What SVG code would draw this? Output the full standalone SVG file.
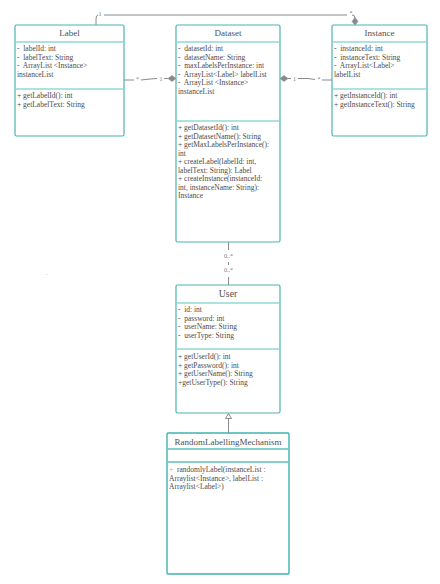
<svg xmlns="http://www.w3.org/2000/svg" width="440" height="584" viewBox="0 0 440 584" xml:space="preserve">
  <style>
    .box { fill: #ffffff; stroke: #4bb4b2; stroke-width: 1.2; }
    .sep { stroke: #93d8d6; stroke-width: 1.4; }
    .title { font-family: "Liberation Serif", "Times New Roman", serif; font-size: 9px; fill: #505050; text-anchor: middle; }
    .txt { font-family: "Liberation Serif", "Times New Roman", serif; font-size: 7.5px; fill: #4a4a4a; white-space: pre; }
    .mult { font-family: "Liberation Serif", "Times New Roman", serif; font-size: 6px; fill: #777777; text-anchor: middle; }
    .conn { fill: none; stroke: #8a8a8a; stroke-width: 1; }
    .diamond { fill: #8a8a8a; stroke: #8a8a8a; stroke-width: 0.6; }
    .tri { fill: #ffffff; stroke: #8a8a8a; stroke-width: 1; }
  </style>

  <rect width="440" height="584" fill="#ffffff"/>

  <!-- connectors -->
  <g id="connectors">
    <!-- Label 1 — * Instance (top) -->
    <path class="conn" d="M96,25 L96,19 Q96,15 98,15"/>
    <text class="mult" x="100" y="15.5">1</text>
    <path class="conn" d="M104,15 L347,15"/>
    <text class="mult" x="351" y="15">*</text>
    <path class="conn" d="M352,15 Q355,15 355,18"/>
    <polygon class="diamond" points="355,17.5 358,21.5 355,25 352,21.5"/>

    <!-- Label * — 1 Dataset -->
    <path class="conn" d="M124,80 L134,80"/>
    <text class="mult" x="137.5" y="81">*</text>
    <path class="conn" d="M141,80 L150,79 L157,78.5"/>
    <text class="mult" x="161" y="80.5">1</text>
    <path class="conn" d="M164,78.5 L168,78.5"/>
    <polygon class="diamond" points="168,78.5 172,75.5 176,78.5 172,81.5"/>

    <!-- Dataset 1 — * Instance -->
    <polygon class="diamond" points="280,78.5 284,75.5 288,78.5 284,81.5"/>
    <path class="conn" d="M288,78.5 L291,78.5"/>
    <text class="mult" x="294.5" y="80.5">1</text>
    <path class="conn" d="M298,78.5 L308,78.5 L315,79.5"/>
    <text class="mult" x="319" y="81">*</text>
    <path class="conn" d="M322,80 L332,80"/>

    <!-- Dataset 0..* — 0..* User -->
    <path class="conn" d="M228.5,242 L228.5,250"/>
    <text class="mult" x="228.5" y="258">0..*</text>
    <path class="conn" d="M228.5,262 L228.5,265"/>
    <text class="mult" x="228.5" y="272">0..*</text>
    <path class="conn" d="M228.5,277 L228.5,285"/>

    <!-- RandomLabellingMechanism extends User -->
    <path class="conn" d="M228.5,419 L228.5,433"/>
    <polygon class="tri" points="228.5,413.5 231.5,418.5 225.5,418.5"/>
  </g>

  <!-- Label class -->
  <g id="label">
    <rect class="box" x="15" y="25" width="109" height="111" rx="1.5"/>
    <line class="sep" x1="15.6" y1="42" x2="123.4" y2="42"/>
    <line class="sep" x1="15.6" y1="89" x2="123.4" y2="89"/>
    <text class="title" x="69.5" y="36">Label</text>
    <text class="txt" x="17" y="51">-  labelId: int</text>
    <text class="txt" x="17" y="59.5">-  labelText: String</text>
    <text class="txt" x="17" y="68">-  ArrayList &lt;Instance&gt;</text>
    <text class="txt" x="17" y="76.5">instanceList</text>
    <text class="txt" x="17" y="98">+ getLabelId(): int</text>
    <text class="txt" x="17" y="106.5">+ getLabelText: String</text>
  </g>

  <!-- Dataset class -->
  <g id="dataset">
    <rect class="box" x="176" y="25" width="104" height="217" rx="1.5"/>
    <line class="sep" x1="176.6" y1="42" x2="279.4" y2="42"/>
    <line class="sep" x1="176.6" y1="121" x2="279.4" y2="121"/>
    <text class="title" x="228" y="36">Dataset</text>
    <text class="txt" x="178" y="51">-  datasetId: int</text>
    <text class="txt" x="178" y="59.5">-  datasetName: String</text>
    <text class="txt" x="178" y="68">-  maxLabelsPerInstance: int</text>
    <text class="txt" x="178" y="76.5">-  ArrayList&lt;Label&gt; labelList</text>
    <text class="txt" x="178" y="85">-  ArrayList &lt;Instance&gt;</text>
    <text class="txt" x="178" y="93.5">instanceList</text>
    <text class="txt" x="178" y="130">+ getDatasetId(): int</text>
    <text class="txt" x="178" y="138.5">+ getDatasetName(): String</text>
    <text class="txt" x="178" y="147">+ getMaxLabelsPerInstance():</text>
    <text class="txt" x="178" y="155.5">int</text>
    <text class="txt" x="178" y="164">+ createLabel(labelId: int,</text>
    <text class="txt" x="178" y="172.5">labelText: String): Label</text>
    <text class="txt" x="178" y="181">+ createInstance(instanceId:</text>
    <text class="txt" x="178" y="189.5">int, instanceName: String):</text>
    <text class="txt" x="178" y="198">Instance</text>
  </g>

  <!-- Instance class -->
  <g id="instance">
    <rect class="box" x="332" y="25" width="95" height="111" rx="1.5"/>
    <line class="sep" x1="332.6" y1="42" x2="426.4" y2="42"/>
    <line class="sep" x1="332.6" y1="89" x2="426.4" y2="89"/>
    <text class="title" x="379.5" y="36">Instance</text>
    <text class="txt" x="334" y="51">-  instanceId: int</text>
    <text class="txt" x="334" y="59.5">-  instanceText: String</text>
    <text class="txt" x="334" y="68">-  ArrayList&lt;Label&gt;</text>
    <text class="txt" x="334" y="76.5">labelList</text>
    <text class="txt" x="334" y="98">+ getInstanceId(): int</text>
    <text class="txt" x="334" y="106.5">+ getInstanceText(): String</text>
  </g>

  <!-- User class -->
  <g id="user">
    <rect class="box" x="176" y="285" width="104" height="128" rx="1.5"/>
    <line class="sep" x1="176.6" y1="303" x2="279.4" y2="303"/>
    <line class="sep" x1="176.6" y1="349" x2="279.4" y2="349"/>
    <text class="title" x="228" y="297" style="font-size:9.8px">User</text>
    <text class="txt" x="178" y="312">-  id: int</text>
    <text class="txt" x="178" y="320.5">-  password: int</text>
    <text class="txt" x="178" y="329">-  userName: String</text>
    <text class="txt" x="178" y="337.5">-  userType: String</text>
    <text class="txt" x="178" y="359">+ getUserId(): int</text>
    <text class="txt" x="178" y="367.5">+ getPassword(): int</text>
    <text class="txt" x="178" y="376">+ getUserName(): String</text>
    <text class="txt" x="178" y="384.5">+getUserType(): String</text>
  </g>

  <!-- RandomLabellingMechanism class -->
  <g id="random-labelling-mechanism">
    <rect class="box" x="167" y="433" width="122" height="141" rx="1" style="stroke:#3fb3b1;stroke-width:1.4"/>
    <line class="sep" x1="167.7" y1="449" x2="288.3" y2="449" style="stroke:#5cc0be"/>
    <line class="sep" x1="167.7" y1="462" x2="288.3" y2="462" style="stroke:#5cc0be"/>
    <text class="title" x="228" y="444.5">RandomLabellingMechanism</text>
    <text class="txt" x="169" y="472"><tspan fill="#b0b0b0">+</tspan>  randomlyLabel(instanceList :</text>
    <text class="txt" x="169" y="480.5">Arraylist&lt;Instance&gt;, labelList :</text>
    <text class="txt" x="169" y="489">Arraylist&lt;Label&gt;)</text>
  </g>

  <!-- stray mark -->
  <text class="mult" x="46.5" y="275" style="fill:#888888">.</text>
</svg>
